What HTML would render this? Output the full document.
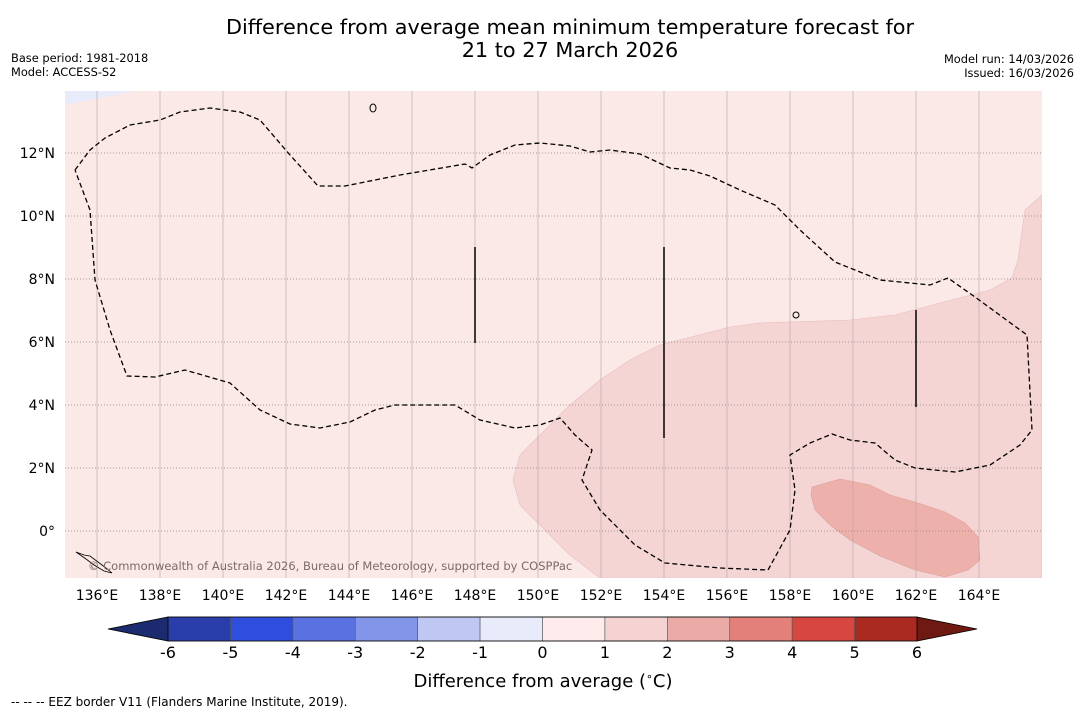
<!DOCTYPE html>
<html><head><meta charset="utf-8">
<style>
body{margin:0;background:#fff;font-family:"DejaVu Sans","Liberation Sans",sans-serif;}
svg{display:block}
</style></head>
<body>
<svg id="chart" width="1085" height="713" viewBox="0 0 1085 713" xmlns="http://www.w3.org/2000/svg">
<text x="570" y="34" text-anchor="middle" font-size="20.8" font-family="DejaVu Sans,sans-serif">Difference from average mean minimum temperature forecast for</text>
<text x="570" y="57" text-anchor="middle" font-size="20.8" font-family="DejaVu Sans,sans-serif">21 to 27 March 2026</text>
<text x="11" y="62" font-size="11.4">Base period: 1981-2018</text>
<text x="11" y="76" font-size="11.4">Model: ACCESS-S2</text>
<text x="1074" y="63" font-size="11.4" text-anchor="end">Model run: 14/03/2026</text>
<text x="1074" y="77" font-size="11.4" text-anchor="end">Issued: 16/03/2026</text>
<defs><clipPath id="mapclip"><rect x="65" y="91" width="977" height="487"/></clipPath></defs>
<g clip-path="url(#mapclip)">
<rect x="65" y="91" width="977" height="487" fill="#fbe9e8"/>
<polygon points="65,91 135,91 65,105" fill="#e8ebfa"/>
<polygon points="1042,195 1025,210 1018,260 1012,278 990,290 940,303 895,315 850,320 760,323 730,327 660,345 630,360 600,380 570,405 540,435 520,455 513,480 520,505 545,530 570,555 600,578 1042,578" fill="#f5d5d4" stroke="#e8bcbb" stroke-width="0.6"/>
<polygon points="812,487 840,479 870,485 890,495 915,502 945,512 965,523 978,537 980,560 968,570 945,577 915,570 880,556 850,540 830,525 815,510 811,495" fill="#eeb0ab" stroke="#dca09a" stroke-width="0.6"/>
<g id="grid"></g>
<polyline points="75,170 90,150 105,138 130,125 160,120 180,112 210,108 240,112 260,120 290,155 318,186 345,186 400,175 465,164 472,168 490,155 515,145 540,143 570,146 590,152 610,150 640,154 670,168 690,170 710,176 740,190 775,205 800,230 835,262 880,280 930,285 948,278 975,297 1027,335 1032,430 1020,445 990,465 955,472 915,468 895,460 875,443 850,440 832,434 810,443 790,455 795,490 790,530 768,570 720,568 665,563 635,545 600,510 582,480 592,450 575,435 560,418 540,425 515,428 480,420 455,405 420,405 395,405 375,410 350,422 320,428 290,424 260,410 230,383 185,370 155,377 127,376 110,330 95,280 90,210 75,170" fill="none" stroke="#000" stroke-width="1.3" stroke-dasharray="5,3"/>
<line x1="475" y1="247" x2="475" y2="343" stroke="#000" stroke-width="1.5"/>
<line x1="664" y1="247" x2="664" y2="438" stroke="#000" stroke-width="1.5"/>
<line x1="916" y1="310" x2="916" y2="407" stroke="#000" stroke-width="1.5"/>
<path d="M76,552 l8,3 l6,1 l8,6 l8,6 l6,5 l-8,-2 l-10,-6 l-8,-6 z" fill="none" stroke="#000" stroke-width="0.8"/>
<ellipse cx="796" cy="315" rx="3" ry="3" fill="none" stroke="#000"/>
<ellipse cx="373" cy="108" rx="3" ry="4" fill="none" stroke="#000"/>
<text x="88" y="570" font-size="11.5" fill="#7a6a6a">© Commonwealth of Australia 2026, Bureau of Meteorology, supported by COSPPac</text>
</g>
<g id="axes"></g>
<g id="cbar"></g>
<text x="543" y="687" text-anchor="middle" font-size="18">Difference from average (<tspan font-size="11" dy="-7">∘</tspan><tspan dy="7">C)</tspan></text>
<text x="11" y="706" font-size="12">-- -- -- EEZ border V11 (Flanders Marine Institute, 2019).</text>
</svg>
<script>
const lonTicks=[136,138,140,142,144,146,148,150,152,154,156,158,160,162,164];
const latTicks=[12,10,8,6,4,2,0];
const levels=[-6,-5,-4,-3,-2,-1,0,1,2,3,4,5,6];
const levelColors=["#2a3eab","#2e4fdd","#5a72e1","#8395e9","#bfc7f3","#e8ebfa","#fdeceb","#f5d3d2","#eaaaa5","#e3807a","#d8473f","#aa2a22"];
const ns="http://www.w3.org/2000/svg";
const X=lon=>65.5+(lon-135)*31.5;
const Y=lat=>531-lat*31.5;
function mk(tag,attrs,parent){const e=document.createElementNS(ns,tag);for(const k in attrs)e.setAttribute(k,attrs[k]);parent.appendChild(e);return e;}
const grid=document.getElementById('grid'),axes=document.getElementById('axes'),cb=document.getElementById('cbar');
lonTicks.forEach(l=>{
 const g=mk('line',{x1:X(l),x2:X(l),y1:91,y2:578,stroke:'#b0a6a6','stroke-width':0.6},grid);
 
 
 const t=mk('text',{x:X(l),y:600,'text-anchor':'middle','font-size':14},axes);t.textContent=l+'°E';
 
 
});
latTicks.forEach(l=>{
 const g=mk('line',{x1:65,x2:1042,y1:Y(l),y2:Y(l),stroke:'#8a8080','stroke-width':0.8,'stroke-dasharray':'1,2'},grid);
 
 
 const t=mk('text',{x:55,y:Y(l)+5,'text-anchor':'end','font-size':14},axes);t.textContent=l===0?'0°':l+'°N';
 
 
});
const cx0=168,cx1=917,cy=617,ch=24;
const C=v=>cx0+(v-levels[0])/(levels[levels.length-1]-levels[0])*(cx1-cx0);
const lt=mk('polygon',{points:`108,${cy+ch/2} ${cx0},${cy} ${cx0},${cy+ch}`,fill:'#1c2a70',stroke:'#000','stroke-width':0.8},cb);


const rt=mk('polygon',{points:`977,${cy+ch/2} ${cx1},${cy} ${cx1},${cy+ch}`,fill:'#6e1a12',stroke:'#000','stroke-width':0.8},cb);


levelColors.forEach((c,i)=>{
 const r=mk('rect',{x:C(levels[i]),y:cy,width:C(levels[i+1])-C(levels[i]),height:ch,fill:c,stroke:'#555','stroke-width':0.6},cb);
 
 
});
mk('rect',{x:cx0,y:cy,width:cx1-cx0,height:ch,fill:'none',stroke:'#000','stroke-width':0.8},cb);
levels.forEach(v=>{
 const t=mk('text',{x:C(v),y:658,'text-anchor':'middle','font-size':16},cb);t.textContent=v;
 
 
});
</script>
</body></html>
